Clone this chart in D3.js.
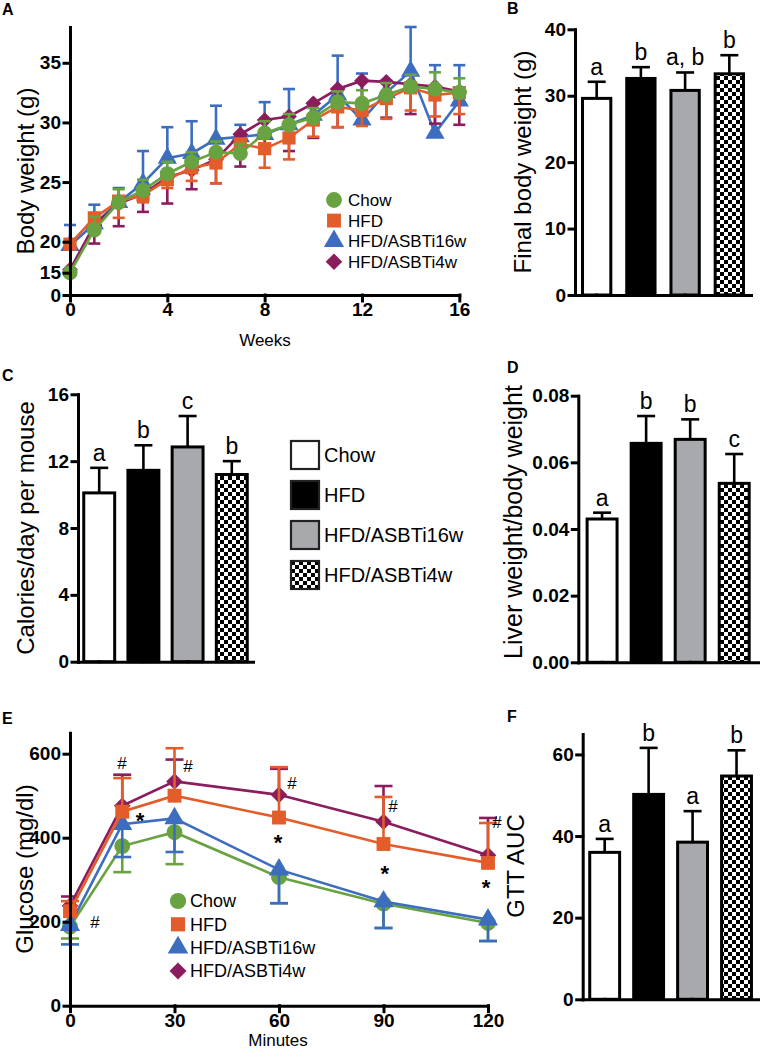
<!DOCTYPE html>
<html>
<head>
<meta charset="utf-8">
<style>
  body { margin: 0; background: #fff; }
  svg { display: block; font-family: "Liberation Sans", Arial, sans-serif; }
  .axis .domain, .axis line { stroke: #000; stroke-width: 3; stroke-linecap: square; }
  .axis text { font-size: 19px; font-weight: bold; fill: #000; font-family: "Liberation Sans", Arial, sans-serif; }
</style>
<script src="https://cdnjs.cloudflare.com/ajax/libs/d3/7.8.5/d3.min.js"></script>
</head>
<body>
<script>
// groups shared by every panel
var groups = ["Chow", "HFD", "HFD/ASBTi16w", "HFD/ASBTi4w"];

// A: body weight over weeks
var weeks = [0,1,2,3,4,5,6,7,8,9,10,11,12,13,14,15,16];
var chowBW    = [15.0, 21.0, 23.3, 24.3, 25.7, 26.7, 27.5, 27.4, 29.1, 29.8, 30.4, 31.7, 31.6, 32.3, 33.0, 32.8, 32.5];
var chowBWsd  = [0.5, 1.1, 1.1, 0.9, 1.0, 0.8, 0.9, 0.8, 1.0, 0.9, 0.8, 0.9, 1.1, 1.0, 1.0, 1.4, 1.2];
var hfdBW     = [19.6, 22.0, 23.4, 23.9, 25.2, 26.2, 26.6, 28.2, 27.8, 28.7, 30.2, 31.3, 31.0, 32.0, 32.9, 32.3, 32.5];
var hfdBWsd   = [0.6, 0.8, 1.4, 0.6, 0.7, 1.1, 1.7, 1.0, 1.6, 1.8, 1.4, 1.7, 1.3, 1.7, 1.9, 1.8, 1.8];
var asbt16BW  = [19.4, 21.5, 23.3, 24.9, 27.0, 27.4, 28.6, 28.8, 29.0, 29.8, 30.6, 32.3, 30.2, 32.5, 34.3, 29.1, 31.8];
var asbt16BWsd= [2.0, 1.6, 1.2, 2.7, 2.6, 2.7, 2.8, 1.0, 2.7, 3.0, 1.0, 3.3, 3.9, 1.0, 3.7, 5.7, 3.0];
var asbt4BW   = [15.5, 21.4, 23.2, 24.0, 25.4, 26.0, 26.9, 29.0, 30.2, 30.5, 31.6, 32.8, 33.5, 33.4, 33.2, 33.0, 32.6];
var asbt4BWsd = [0.5, 1.7, 1.9, 1.5, 2.2, 1.6, 2.0, 2.7, 2.8, 2.9, 2.9, 3.2, 2.6, 3.0, 2.5, 3.1, 2.8];
var weekTicks = [0, 4, 8, 12, 16];
var bwTicks = [0, 15, 20, 25, 30, 35];

// B: final body weight
var finalBW = [29.6, 32.6, 30.8, 33.3];
var finalBWsd = [2.5, 1.7, 2.7, 2.8];
var finalBWletters = ["a", "b", "a, b", "b"];

// C: calories
var calories = [10.1, 11.45, 12.85, 11.2];
var caloriesSd = [1.5, 1.5, 1.85, 0.8];
var caloriesLetters = ["a", "b", "c", "b"];

// D: liver / body weight
var liverRatio = [0.043, 0.0657, 0.0669, 0.0537];
var liverRatioSd = [0.0019, 0.0082, 0.006, 0.0088];
var liverLetters = ["a", "b", "b", "c"];

// E: glucose tolerance
var minutes = [0, 15, 30, 60, 90, 120];
var chowGlu    = [188, 380, 413, 306, 243, 197];
var chowGluSd  = [28, 62, 76, 62, 58, 43];
var hfdGlu     = [225, 462, 500, 448, 385, 340];
var hfdGluSd   = [24, 80, 113, 120, 112, 95];
var asbt16Glu  = [192, 432, 446, 324, 248, 205];
var asbt16GluSd= [46, 78, 80, 80, 63, 51];
var asbt4Glu   = [238, 476, 534, 502, 438, 358];
var asbt4GluSd = [22, 74, 52, 62, 85, 89];
var minuteTicks = [0, 30, 60, 90, 120];
var gluTicks = [0, 200, 400, 600];
// significance marks (minute, mg/dl)
var hashAt = [[7.2, 200], [14.9, 578], [33.9, 570], [63.7, 530], [92.7, 475], [122.6, 437]];
var starAt = [[20.1, 454], [59.7, 402], [90.4, 328], [119.4, 295]];

// F: GTT AUC
var gttAuc = [36.0, 50.2, 38.5, 54.7];
var gttAucSd = [3.3, 11.4, 7.6, 6.3];
var gttLetters = ["a", "b", "a", "b"];

var colors = {"Chow": "#69a341", "HFD": "#e35d2b", "HFD/ASBTi16w": "#3d6dbf", "HFD/ASBTi4w": "#8b1c5e"};
var shapes = {"Chow": "circle", "HFD": "square", "HFD/ASBTi16w": "triangle", "HFD/ASBTi4w": "diamond"};
var fills = ["#fff", "#000", "#a8a9ad", "url(#checker)"];

var svg = d3.select("body").append("svg").attr("width", 760).attr("height", 1050);

var defs = svg.append("defs");
var pat = defs.append("pattern").attr("id", "checker").attr("patternUnits", "userSpaceOnUse")
  .attr("width", 8).attr("height", 8);
pat.append("rect").attr("width", 8).attr("height", 8).attr("fill", "#fff");
pat.append("rect").attr("width", 4).attr("height", 4).attr("fill", "#000");
pat.append("rect").attr("x", 4).attr("y", 4).attr("width", 4).attr("height", 4).attr("fill", "#000");

function drawMarker(sel, shape, color, scale) {
  var s = scale || 1;
  var p;
  if (shape == "circle") p = d3.symbol().type(d3.symbolCircle).size(180 * s)();
  else if (shape == "square") p = d3.symbol().type(d3.symbolSquare).size(175 * s)();
  else if (shape == "triangle") p = d3.symbol().type(d3.symbolTriangle).size(160 * s)();
  else p = d3.symbol().type(d3.symbolSquare).size(125 * s)();
  sel.append("path").attr("d", p).attr("fill", color)
    .attr("transform", shape == "diamond" ? "rotate(45)" : null);
}

function panelLetter(txt, x, y) {
  svg.append("text").attr("x", x).attr("y", y).attr("font-size", 16).attr("font-weight", "bold").text(txt);
}

function yLabel(txt, x, y, size) {
  svg.append("text").attr("transform", "translate(" + x + "," + y + ") rotate(-90)")
    .attr("text-anchor", "middle").attr("dy", "0.35em").attr("font-size", size || 24).text(txt);
}

// ---------- line panels ----------
function linePanel(cfg) {
  var g = svg.append("g");
  var x = cfg.x, y = cfg.y;
  var line = d3.line().x(function(d) { return x(d[0]); }).y(function(d) { return y(d[1]); });

  cfg.series.forEach(function(s) {
    var c = colors[s.name];
    var pts = cfg.xs.map(function(t, i) { return [t, s.vals[i], s.sd[i]]; });
    var sg = g.append("g");
    sg.append("path").datum(pts).attr("d", line).attr("fill", "none")
      .attr("stroke", c).attr("stroke-width", 2.6);
    var eb = sg.selectAll("g.eb").data(pts).join("g");
    eb.append("line")
      .attr("x1", function(d) { return x(d[0]); }).attr("x2", function(d) { return x(d[0]); })
      .attr("y1", function(d) { return y(d[1]); })
      .attr("y2", function(d) { return y(d[1] + s.dir * d[2]); })
      .attr("stroke", c).attr("stroke-width", 2.6);
    eb.append("line")
      .attr("x1", function(d) { return x(d[0]) - cfg.cap; }).attr("x2", function(d) { return x(d[0]) + cfg.cap; })
      .attr("y1", function(d) { return y(d[1] + s.dir * d[2]); })
      .attr("y2", function(d) { return y(d[1] + s.dir * d[2]); })
      .attr("stroke", c).attr("stroke-width", 2.6);
    var mk = sg.selectAll("g.mk").data(pts).join("g")
      .attr("transform", function(d) { return "translate(" + x(d[0]) + "," + y(d[1]) + ")"; });
    drawMarker(mk, shapes[s.name], c, cfg.msize);
  });

  g.append("g").attr("class", "axis").attr("transform", "translate(0," + y.range()[0] + ")")
    .call(d3.axisBottom(x).tickValues(cfg.xticks).tickSize(6).tickSizeOuter(0).tickPadding(2));
  g.append("g").attr("class", "axis").attr("transform", "translate(" + x.range()[0] + ",0)")
    .call(d3.axisLeft(y).tickValues(cfg.yticks).tickSize(6).tickSizeOuter(0).tickPadding(3));

  var lg = g.append("g").selectAll("g").data(groups).join("g")
    .attr("transform", function(d, i) { return "translate(" + cfg.legX + "," + (cfg.legY + i * cfg.legStep) + ")"; });
  lg.each(function(d) { drawMarker(d3.select(this), shapes[d], colors[d], cfg.lsize); });
  lg.append("text").attr("x", cfg.legDx).attr("dy", "0.36em").attr("font-size", cfg.legFont)
    .text(function(d) { return d; });
}

// A
var xA = d3.scaleLinear().domain([0, 16]).range([70, 459.3]);
var yA = d3.scaleLinear().domain([0, 15, 20, 38]).range([295, 272.7, 241.7, 27]);
linePanel({
  x: xA, y: yA, xs: weeks, xticks: weekTicks, yticks: bwTicks, cap: 6, msize: 1, lsize: 1.1,
  series: [
    {name: "HFD/ASBTi16w", vals: asbt16BW, sd: asbt16BWsd, dir: 1},
    {name: "HFD/ASBTi4w", vals: asbt4BW, sd: asbt4BWsd, dir: -1},
    {name: "HFD", vals: hfdBW, sd: hfdBWsd, dir: -1},
    {name: "Chow", vals: chowBW, sd: chowBWsd, dir: 1}
  ],
  legX: 334, legY: 200, legStep: 20.6, legDx: 14, legFont: 17
});
svg.append("text").attr("x", 265).attr("y", 346).attr("text-anchor", "middle").attr("font-size", 17).text("Weeks");
yLabel("Body weight (g)", 26, 171, 24);
panelLetter("A", 2, 15);

// E
var xE = d3.scaleLinear().domain([0, 120]).range([70, 488]);
var yE = d3.scaleLinear().domain([0, 650]).range([1005.7, 732.7]);
linePanel({
  x: xE, y: yE, xs: minutes, xticks: minuteTicks, yticks: gluTicks, cap: 9, msize: 1.1, lsize: 1.15,
  series: [
    {name: "Chow", vals: chowGlu, sd: chowGluSd, dir: -1},
    {name: "HFD/ASBTi16w", vals: asbt16Glu, sd: asbt16GluSd, dir: -1},
    {name: "HFD/ASBTi4w", vals: asbt4Glu, sd: asbt4GluSd, dir: 1},
    {name: "HFD", vals: hfdGlu, sd: hfdGluSd, dir: 1}
  ],
  legX: 178, legY: 901, legStep: 23.3, legDx: 12, legFont: 18
});
svg.append("g").selectAll("text").data(hashAt).join("text")
  .attr("x", function(d) { return xE(d[0]); }).attr("y", function(d) { return yE(d[1]); })
  .attr("text-anchor", "middle").attr("dy", "0.35em").attr("font-size", 17).text("#");
svg.append("g").selectAll("text").data(starAt).join("text")
  .attr("x", function(d) { return xE(d[0]); }).attr("y", function(d) { return yE(d[1]); })
  .attr("text-anchor", "middle").attr("dy", "0.6em").attr("font-size", 22).attr("font-weight", "bold").text("*");
svg.append("text").attr("x", 278).attr("y", 1046).attr("text-anchor", "middle").attr("font-size", 17).text("Minutes");
yLabel("Glucose (mg/dl)", 25, 869, 24);
panelLetter("E", 2, 724);

// ---------- bar panels ----------
function barPanel(cfg) {
  var g = svg.append("g");
  var y = d3.scaleLinear().domain(cfg.domain).range(cfg.range);
  var x = d3.scaleBand().domain(groups).range([cfg.x0, cfg.x1]).paddingInner(cfg.pi).paddingOuter(cfg.po);
  var data = groups.map(function(k, i) { return {k: k, v: cfg.vals[i], e: cfg.sd[i], lab: cfg.letters[i], f: fills[i]}; });
  var cx = function(d) { return x(d.k) + x.bandwidth() / 2; };

  g.selectAll("line.err").data(data).join("line")
    .attr("x1", cx).attr("x2", cx)
    .attr("y1", function(d) { return y(d.v); }).attr("y2", function(d) { return y(d.v + d.e); })
    .attr("stroke", "#000").attr("stroke-width", 2.6);
  g.selectAll("line.cap").data(data).join("line")
    .attr("x1", function(d) { return cx(d) - 9; }).attr("x2", function(d) { return cx(d) + 9; })
    .attr("y1", function(d) { return y(d.v + d.e); }).attr("y2", function(d) { return y(d.v + d.e); })
    .attr("stroke", "#000").attr("stroke-width", 2.6);
  g.selectAll("rect").data(data).join("rect")
    .attr("x", function(d) { return x(d.k); }).attr("width", x.bandwidth())
    .attr("y", function(d) { return y(d.v); }).attr("height", function(d) { return y(0) - y(d.v); })
    .attr("fill", function(d) { return d.f; }).attr("stroke", "#000").attr("stroke-width", 3);
  g.selectAll("text.lab").data(data).join("text")
    .attr("x", cx).attr("y", function(d) { return y(d.v + d.e) - 7; })
    .attr("text-anchor", "middle").attr("font-size", 23).text(function(d) { return d.lab; });

  g.append("g").attr("class", "axis").attr("transform", "translate(0," + y(0) + ")")
    .call(d3.axisBottom(x).tickSize(0).tickSizeOuter(0).tickFormat(""));
  g.append("g").attr("class", "axis").attr("transform", "translate(" + cfg.x0 + ",0)")
    .call(d3.axisLeft(y).tickValues(cfg.ticks).tickSize(6).tickSizeOuter(0).tickPadding(3)
      .tickFormat(cfg.fmt || d3.format("d")));
}

// B
barPanel({domain: [0, 40], range: [295, 29.3], x0: 575, x1: 751, pi: 0.36, po: 0.17,
  vals: finalBW, sd: finalBWsd, letters: finalBWletters, ticks: [0, 10, 20, 30, 40]});
yLabel("Final body weight (g)", 523, 162, 24);
panelLetter("B", 507, 14);

// C
barPanel({domain: [0, 16], range: [661.7, 394.3], x0: 78, x1: 253, pi: 0.3, po: 0.13,
  vals: calories, sd: caloriesSd, letters: caloriesLetters, ticks: [0, 4, 8, 12, 16]});
yLabel("Calories/day per mouse", 26, 528, 24);
panelLetter("C", 2, 381);

// D
barPanel({domain: [0, 0.08], range: [662.3, 395.7], x0: 578.3, x1: 758, pi: 0.32, po: 0.2,
  vals: liverRatio, sd: liverRatioSd, letters: liverLetters, ticks: [0, 0.02, 0.04, 0.06, 0.08],
  fmt: d3.format(".2f")});
yLabel("Liver weight/body weight", 513, 522, 25);
panelLetter("D", 507, 373);

// F
barPanel({domain: [0, 65], range: [999.3, 734], x0: 582.7, x1: 758.5, pi: 0.32, po: 0.16,
  vals: gttAuc, sd: gttAucSd, letters: gttLetters, ticks: [0, 20, 40, 60]});
yLabel("GTT AUC", 516, 866, 24);
panelLetter("F", 507, 722);

// middle legend for bar colours
var leg = svg.append("g").selectAll("g").data(groups).join("g")
  .attr("transform", function(d, i) { return "translate(291," + (441 + i * 40) + ")"; });
leg.append("rect").attr("width", 28).attr("height", 28)
  .attr("fill", function(d, i) { return fills[i]; }).attr("stroke", "#222").attr("stroke-width", 2.2);
leg.append("text").attr("x", 33).attr("y", 14).attr("dy", "0.36em").attr("font-size", 20)
  .text(function(d) { return d; });
</script>
</body>
</html>
